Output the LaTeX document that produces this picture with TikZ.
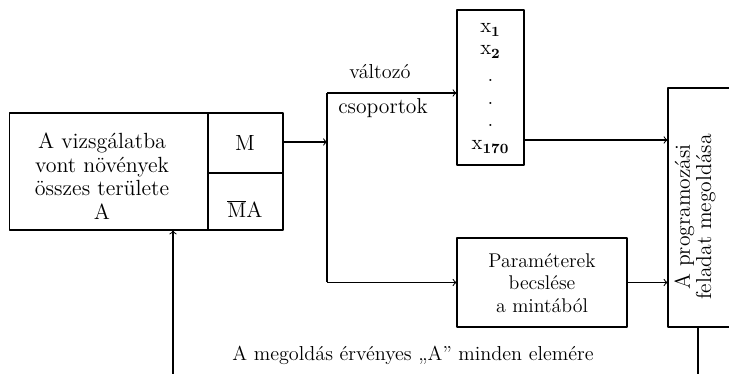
\documentclass[tikz,border=0pt]{standalone}
\usetikzlibrary{positioning}
\tikzset{
  blokk/.style={draw, inner sep=0pt},
  felirat/.style={align=center, inner sep=1pt},
  pont/.style={inner sep=0pt, font=\fontsize{12}{12}\selectfont}
}
\begin{document}
\begin{tikzpicture}[x=0.02cm, y=-0.02cm, >=to, line width=.6pt, line join=round, font=\fontsize{12}{13}\selectfont]
	\useasboundingbox (0,0) rectangle (729,374);
	% a vizsgált terület
	\node[blokk, minimum width=5.48cm, minimum height=2.34cm] (terulet) at (146,171.5) {};
	\node[felirat, font=\fontsize{12.5}{13.4}\selectfont] (terszoveg) at (102,176) {A vizsgálatba\\vont növények\\összes területe\\A};
	\draw (208,113) -- (208,230) (208,173) -- (283,173);
	\node[felirat, font=\fontsize{12.5}{13}\selectfont] (m) at (245,143) {M};
	\node[felirat, font=\fontsize{12.5}{13}\selectfont] (ma) at (245,209) {$\overline{\mathrm{M}}$A};
	% elágazás
	\coordinate (split) at (327,142);
	\coordinate (fork1) at (327,93);
	\coordinate (fork2) at (327,282.5);
	\draw[->] (terulet.east |- split) -- (split);
	\draw (fork1) -- (fork2);
	\node[felirat, font=\fontsize{11.5}{13}\selectfont] (valtozo) at (380,72) {változó};
	\node[felirat, font=\fontsize{12.3}{13}\selectfont] (csoport) at (383,108) {csoportok};
	% változók és paraméterek
	\node[blokk, minimum width=1.34cm, minimum height=3.1cm] (valt) at (490.5,87.5) {};
	\node[pont] (x1) at (490.5,30) {x$_{\mathbf{1}}$};
	\node[pont] (x2) at (490.5,52) {x$_{\mathbf{2}}$};
	\node[pont] (d1) at (490.5,80) {.};
	\node[pont] (d2) at (490.5,103) {.};
	\node[pont] (d3) at (490.5,125) {.};
	\node[pont] (x170) at (490.5,147) {x$_{\mathbf{170}}$};
	\node[blokk, minimum width=3.4cm, minimum height=1.78cm] (param) at (542,282.5) {};
	\node[felirat, font=\fontsize{11.3}{12.8}\selectfont] (paramszoveg) at (542,283) {Paraméterek\\becslése\\a mintából};
	% a programozási feladat
	\node[blokk, minimum width=1.44cm, minimum height=4.78cm] (prog) at (704,207.5) {};
	\node[felirat, rotate=90, font=\fontsize{12.3}{11}\selectfont] (progszoveg) at (695,217) {A programozási\\feladat megoldása};
	\coordinate (out1) at (524,140);
	\draw[->] (fork1) -- (fork1 -| valt.west);
	\draw[->] (fork2) -- (param.west);
	\draw[->] (out1) -- (out1 -| prog.west);
	\draw[->] (param.east) -- (param.east -| prog.west);
	% visszacsatolás
	\coordinate (loop) at (698,374);
	\coordinate (feed) at (173,374);
	\draw (loop |- prog.south) -- (loop);
	\draw[->] (feed) -- (feed |- terulet.south);
	\node[felirat, font=\fontsize{11.5}{13}\selectfont] (megoldas) at (413,355) {A megoldás érvényes „A” minden elemére};
\end{tikzpicture}
\end{document}
